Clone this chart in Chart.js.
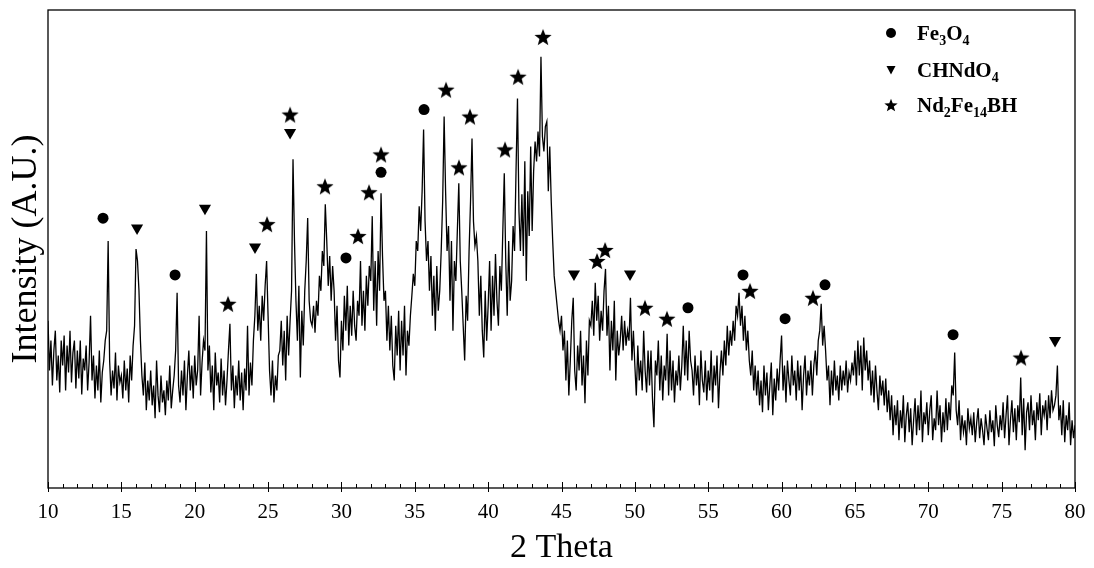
<!DOCTYPE html>
<html><head><meta charset="utf-8">
<script src="https://cdn.jsdelivr.net/npm/chart.js@4.4.1/dist/chart.umd.min.js"></script>
<style>html,body{margin:0;padding:0;background:#fff;}#wrap{width:1094px;height:568px;}</style>
</head><body><div id="wrap"><canvas id="c" width="1094" height="568"></canvas></div>
<script>
// measurement grid (2θ start and step, degrees)
const twoThetaStart = 10, twoThetaStep = 0.1;
// intensity (arbitrary units), 0.1° per value
const int10to20 = [
170,120,150,105,140,160,110,135,98,150, 125,155,100,145,118,160,108,138,150,102,
140,112,150,96,132,120,145,100,128,175, 110,135,92,125,100,140,88,118,130,150,
160,250,130,95,120,102,138,90,125,108, 115,92,130,100,122,88,135,110,145,165,
242,230,200,150,115,95,128,80,110,90, 120,85,105,72,130,95,78,115,88,100,
75,110,90,125,82,100,115,140,198,105, 88,120,95,130,80,115,140,100,125,92];
const int20to30 = [
135,105,120,175,95,128,150,140,260,120, 145,98,125,80,138,105,118,88,132,95,
120,85,110,140,167,100,125,82,115,95, 130,90,118,80,122,100,165,95,128,105,
150,175,217,160,185,150,195,170,205,230, 175,120,95,130,88,115,100,135,140,170,
125,160,110,175,135,170,200,332,250,190, 150,205,113,180,145,200,230,273,190,170,
165,185,158,190,175,215,200,240,225,287, 250,205,235,190,225,200,150,185,130,113];
const int30to40 = [
170,140,195,160,205,145,185,155,200,165, 150,190,175,230,165,200,160,215,185,225,
210,275,180,230,165,240,200,298,235,190, 200,150,185,140,175,125,110,165,135,180,
120,170,135,185,115,160,145,175,195,217, 205,250,240,285,260,300,362,270,230,250,
200,235,175,215,160,225,180,200,240,290, 375,300,240,265,190,250,160,230,210,260,
308,230,200,165,130,195,170,240,290,353, 270,245,255,230,175,215,160,133,200,150];
const int40to50 = [
185,230,160,215,175,237,190,165,225,200, 260,318,230,175,250,190,210,265,240,320,
393,280,240,297,235,330,210,300,255,345, 260,320,350,330,360,335,435,355,340,365,
370,300,345,290,250,215,200,185,170,160, 175,140,160,110,150,95,130,170,193,120,
100,145,120,160,105,135,87,150,115,170, 165,190,155,208,170,195,150,180,160,200,
222,155,185,120,170,140,190,110,160,135, 150,175,140,170,145,160,150,193,130,160];
const int50to60 = [
125,95,145,110,130,100,160,120,98,140, 105,140,92,63,130,115,150,100,135,90,
125,110,157,95,140,100,130,88,120,105, 135,100,125,165,115,150,110,160,130,120,
95,135,105,125,85,140,110,98,130,90, 120,100,140,88,125,105,135,82,118,140,
115,150,125,165,135,160,145,170,150,185, 175,198,165,185,150,175,140,160,130,115,
140,100,125,95,120,85,110,78,125,95, 118,80,105,128,75,112,90,122,100,130];
const int60to70 = [
155,100,125,88,130,110,95,135,105,120, 90,130,100,125,80,115,135,95,120,105,
130,95,125,140,115,150,160,187,145,165, 140,110,125,85,120,95,130,100,115,90,
125,100,120,105,130,98,118,110,128,115, 140,105,150,115,145,100,153,120,140,110,
130,95,120,88,125,100,80,115,95,110, 85,112,78,100,70,95,55,85,65,90,
50,80,62,95,48,75,88,58,82,45, 70,92,55,85,60,100,48,78,66,88];
const int70to80 = [
55,80,95,50,72,60,100,65,85,48, 78,58,92,60,88,70,105,95,138,80,
65,90,50,75,58,70,45,82,62,72, 55,78,48,68,82,52,72,60,45,76,
62,50,80,58,70,44,85,65,53,75, 60,88,52,75,95,45,70,90,58,82,
50,85,68,113,55,92,40,78,88,60, 95,65,80,50,88,70,97,55,85,75,
90,60,95,72,100,80,85,95,125,70, 85,55,90,48,75,60,88,45,70,52, 65];

// phase markers: 2θ and marker height
const fe3o4X = [13.75,18.66,30.31,32.70,35.63,53.62,57.37,60.24,62.96,71.69];
const fe3o4Y = [273,216,233,319,382,183,216,172,206,156];
const chndo4X = [16.07,20.70,24.11,26.50,45.85,49.67,78.64];
const chndo4Y = [263,283,244,359,217,217,150];
const ndfebX = [22.27,24.93,26.50,28.88,31.13,31.88,32.70,37.13,38.01,38.76,41.15,42.04,43.74,47.42,47.97,50.69,52.19,57.85,62.14,76.32];
const ndfebY = [187,267,377,305,255,299,337,402,324,375,342,415,455,230,241,183,172,200,193,133];

const phaseLabels = ['Fe3O4','CHNdO4','Nd2Fe14BH'];
const xTickLabels = ['10','15','20','25','30','35','40','45','50','55','60','65','70','75','80'];

const intensity = [].concat(int10to20,int20to30,int30to40,int40to50,int50to60,int60to70,int70to80);
const pattern = intensity.map((v,i)=>({x: twoThetaStart + i*twoThetaStep, y: v}));
const pts = (xs,ys)=>xs.map((x,i)=>({x, y: ys[i]}));

function makeStar(size){
  const c=document.createElement('canvas'); c.width=c.height=size;
  const g=c.getContext('2d'); g.fillStyle='#000'; g.beginPath();
  const R=size/2, r=R*0.42, cx=size/2, cy=size/2+size*0.05;
  for(let i=0;i<10;i++){const rr=i%2?r:R; const a=-Math.PI/2+i*Math.PI/5; g.lineTo(cx+rr*Math.cos(a), cy+rr*Math.sin(a));}
  g.closePath(); g.fill(); return c;
}
const starBig = makeStar(18), starSmall = makeStar(14);

const SERIF = "'Liberation Serif','Times New Roman',serif";

function drawFormula(ctx, text, x, y){
  let cx=x;
  for(const ch of text.match(/\d+|\D+/g)){
    const sub=/\d/.test(ch);
    ctx.font = 'bold ' + (sub?14:21) + 'px ' + SERIF;
    ctx.fillText(ch, cx, sub? y+5 : y);
    cx += ctx.measureText(ch).width;
  }
}

const frame = {
  id:'frame',
  afterDraw(chart){
    const {ctx, chartArea:a, scales:{x}} = chart;
    ctx.save();
    ctx.strokeStyle='#000'; ctx.lineWidth=1.3;
    ctx.strokeRect(a.left, a.top, a.right-a.left, a.bottom-a.top);
    ctx.lineWidth=1;
    for(let t=10;t<=80;t++){
      const px=Math.round(x.getPixelForValue(t))+0.5;
      ctx.beginPath();
      if(t%5===0){ctx.moveTo(px,a.bottom-6);ctx.lineTo(px,a.bottom+4);}
      else {ctx.moveTo(px,a.bottom-4);ctx.lineTo(px,a.bottom);}
      ctx.stroke();
    }
    // legend inside plot
    ctx.fillStyle='#000'; ctx.textBaseline='alphabetic'; ctx.textAlign='left';
    const rows=[33,70,105], mx=891, tx=917;
    ctx.beginPath(); ctx.arc(mx,rows[0],5,0,Math.PI*2); ctx.fill();
    ctx.beginPath(); ctx.moveTo(mx-4.5,rows[1]-4); ctx.lineTo(mx+4.5,rows[1]-4); ctx.lineTo(mx,rows[1]+4.5); ctx.closePath(); ctx.fill();
    ctx.drawImage(starSmall, mx-7, rows[2]-7);
    phaseLabels.forEach((l,i)=>drawFormula(ctx,l,tx,rows[i]+7));
    ctx.restore();
  }
};

new Chart(document.getElementById('c'), {
  type:'line',
  data:{datasets:[
    {label:'pattern', data:pattern, borderColor:'#000', borderWidth:1.3, pointRadius:0, tension:0, order:2},
    {label:phaseLabels[0], data:pts(fe3o4X,fe3o4Y), showLine:false, pointStyle:'circle', pointRadius:5.5, backgroundColor:'#000', borderColor:'#000', borderWidth:0, order:1},
    {label:phaseLabels[1], data:pts(chndo4X,chndo4Y), showLine:false, pointStyle:'triangle', pointRotation:180, pointRadius:7, backgroundColor:'#000', borderColor:'#000', borderWidth:0, order:1},
    {label:phaseLabels[2], data:pts(ndfebX,ndfebY), showLine:false, pointStyle:starBig, pointRadius:9, backgroundColor:'#000', order:1}
  ]},
  options:{
    responsive:false, animation:false, devicePixelRatio:1,
    layout:{padding:{top:8,right:19,left:0,bottom:0}},
    plugins:{legend:{display:false}, tooltip:{enabled:false}},
    scales:{
      x:{type:'linear', min:10, max:80,
        afterBuildTicks:(s)=>{s.ticks = xTickLabels.map(v=>({value:+v}));},
        ticks:{color:'#000', font:{family:SERIF,size:21}, padding:12, maxRotation:0,
          callback:(v)=>xTickLabels[xTickLabels.indexOf(String(v))]},
        grid:{display:false, drawTicks:false}, border:{display:false},
        title:{display:true, text:'2 Theta', color:'#000', font:{family:SERIF,size:34}, padding:{top:0,bottom:0}},
        afterFit:(s)=>{s.height=80; s.paddingRight=0; s.paddingLeft=0;}},
      y:{min:2, max:482, ticks:{display:false}, grid:{display:false, drawTicks:false}, border:{display:false},
        title:{display:true, text:'Intensity (A.U.)', color:'#000', font:{family:SERIF,size:36}, padding:{top:5,bottom:0}},
        afterFit:(s)=>{s.width=48; s.paddingTop=0; s.paddingBottom=0;}}
    }
  },
  plugins:[frame]
});
</script></body></html>
